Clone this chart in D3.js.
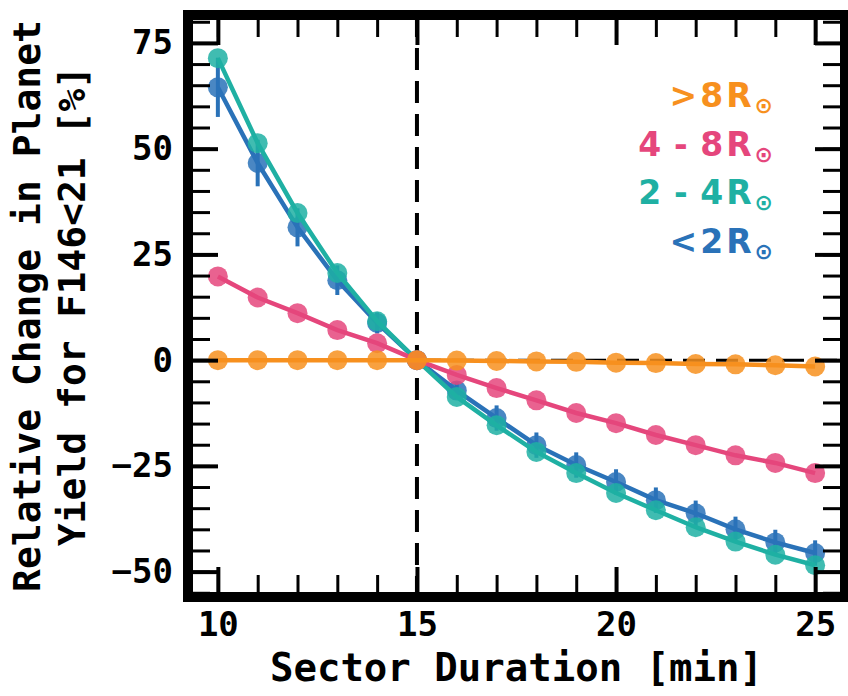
<!DOCTYPE html>
<html>
<head>
<meta charset="utf-8">
<script src="https://cdn.jsdelivr.net/npm/d3@7.9.0/dist/d3.min.js"></script>
<style>
  html, body { margin: 0; padding: 0; background: #fff; }
  svg { display: block; }
</style>
</head>
<body>
<svg id="chart" width="848" height="696"></svg>
<script>
// sector durations (min)
const durations = [10, 11, 12, 13, 14, 15, 16, 17, 18, 19, 20, 21, 22, 23, 24, 25];

// relative change in planet yield [%] per radius bin
const yieldBig = [0, 0, 0, 0, 0, 0, -0.1, -0.2, -0.3, -0.4, -0.6, -0.7, -0.9, -1.0, -1.2, -1.5];
const yieldLarge = [19.8, 14.8, 11.1, 7.1, 4.0, 0, -3.5, -6.6, -9.5, -12.5, -14.9, -17.7, -20.1, -22.5, -24.3, -26.7];
const yieldMid = [71.4, 51.3, 34.8, 20.6, 9.2, 0, -8.7, -15.4, -21.7, -26.7, -31.4, -35.5, -39.5, -42.9, -46.0, -48.5];
const yieldSmall = [64.5, 46.6, 31.4, 18.9, 8.8, 0, -7.2, -13.7, -20.1, -24.8, -28.8, -33.1, -36.2, -40.0, -43.1, -45.6];
const errSmall = [7, 5.5, 4.5, 3.5, 2.5, 0, 2, 3, 3, 3, 3, 3, 3, 3, 3, 3];

const seriesNames = ['<2', '2-4', '4-8', '>8'];
const legendLabels = ['>8R', '4\u2009-\u20098R', '2\u2009-\u20094R', '<2R'];

const xTicks = [10, 15, 20, 25];
const yTicks = [-50, -25, 0, 25, 50, 75];

const colors = {
  '>8': '#f7901e',
  '4-8': '#e5467c',
  '2-4': '#1fb0a3',
  '<2': '#2a72b8'
};

(() => {
  const svg = d3.select('#chart');
  const left = 188, right = 845, top = 15, bottom = 597;

  const x = d3.scaleLinear().domain([9.25, 25.75]).range([left, right]);
  const y = d3.scaleLinear().domain([-56, 81.6]).range([bottom, top]);

  const tickFont = "'DejaVu Sans Mono', monospace";

  svg.append('rect').attr('width', 848).attr('height', 696).attr('fill', '#fff');

  // reference lines
  svg.append('line')
    .attr('x1', x(15)).attr('x2', x(15))
    .attr('y1', top).attr('y2', bottom)
    .attr('stroke', '#000').attr('stroke-width', 4)
    .attr('stroke-dasharray', '22,11');

  svg.append('line')
    .attr('x1', left).attr('x2', right)
    .attr('y1', y(0)).attr('y2', y(0))
    .attr('stroke', '#000').attr('stroke-width', 3)
    .attr('stroke-dasharray', '22,11');

  const data = {
    '<2': yieldSmall,
    '2-4': yieldMid,
    '4-8': yieldLarge,
    '>8': yieldBig
  };

  const line = d3.line()
    .x((d) => x(d[0]))
    .y((d) => y(d[1]));

  seriesNames.forEach((name) => {
    const pts = durations.map((d, i) => [d, data[name][i], name === '<2' ? errSmall[i] : 0]);
    const g = svg.append('g');

    g.append('path')
      .datum(pts)
      .attr('d', line)
      .attr('fill', 'none')
      .attr('stroke', colors[name])
      .attr('stroke-width', 4.5);

    if (name === '<2') {
      g.selectAll('line.err')
        .data(pts)
        .enter()
        .append('line')
        .attr('class', 'err')
        .attr('x1', (d) => x(d[0])).attr('x2', (d) => x(d[0]))
        .attr('y1', (d) => y(d[1] - d[2])).attr('y2', (d) => y(d[1] + d[2]))
        .attr('stroke', colors[name])
        .attr('stroke-width', 4);
    }

    g.selectAll('circle')
      .data(pts)
      .enter()
      .append('circle')
      .attr('cx', (d) => x(d[0]))
      .attr('cy', (d) => y(d[1]))
      .attr('r', 10)
      .attr('fill', colors[name])
      .attr('fill-opacity', 0.85);
  });

  // axes, ticks pointing inward on all four sides
  function styleAxis(g, width) {
    g.select('.domain').remove();
    g.selectAll('.tick line').attr('stroke', '#000').attr('stroke-width', width);
    g.selectAll('text')
      .attr('font-family', tickFont)
      .attr('font-weight', 'bold')
      .attr('font-size', 34)
      .attr('fill', '#000');
  }

  const xMinor = d3.range(10, 26, 1);
  const yMinor = d3.range(-55, 81, 5);

  svg.append('g').attr('transform', `translate(0,${bottom})`)
    .call(d3.axisBottom(x).tickValues(xMinor).tickSize(-22).tickFormat(''))
    .call((g) => styleAxis(g, 3));
  svg.append('g').attr('transform', `translate(0,${top})`)
    .call(d3.axisTop(x).tickValues(xMinor).tickSize(-22).tickFormat(''))
    .call((g) => styleAxis(g, 3));
  svg.append('g').attr('transform', `translate(${left},0)`)
    .call(d3.axisLeft(y).tickValues(yMinor).tickSize(-22).tickFormat(''))
    .call((g) => styleAxis(g, 3));
  svg.append('g').attr('transform', `translate(${right},0)`)
    .call(d3.axisRight(y).tickValues(yMinor).tickSize(-22).tickFormat(''))
    .call((g) => styleAxis(g, 3));

  svg.append('g').attr('transform', `translate(0,${bottom})`)
    .call(d3.axisBottom(x).tickValues(xTicks).tickSize(-30).tickPadding(15).tickFormat(d3.format('d')))
    .call((g) => styleAxis(g, 4));
  svg.append('g').attr('transform', `translate(0,${top})`)
    .call(d3.axisTop(x).tickValues(xTicks).tickSize(-30).tickFormat(''))
    .call((g) => styleAxis(g, 4));
  svg.append('g').attr('transform', `translate(${left},0)`)
    .call(d3.axisLeft(y).tickValues(yTicks).tickSize(-30).tickPadding(15).tickFormat(d3.format('d')))
    .call((g) => styleAxis(g, 4));
  svg.append('g').attr('transform', `translate(${right},0)`)
    .call(d3.axisRight(y).tickValues(yTicks).tickSize(-30).tickFormat(''))
    .call((g) => styleAxis(g, 4));

  // frame
  svg.append('rect')
    .attr('x', left).attr('y', top)
    .attr('width', right - left).attr('height', bottom - top)
    .attr('fill', 'none')
    .attr('stroke', '#000')
    .attr('stroke-width', 10);

  // axis labels
  svg.append('text')
    .attr('x', (left + right) / 2)
    .attr('y', 681)
    .attr('text-anchor', 'middle')
    .attr('font-family', tickFont)
    .attr('font-weight', 'bold')
    .attr('font-size', 39)
    .text('Sector Duration [min]');

  const yLabel = svg.append('text')
    .attr('transform', `translate(0,${(top + bottom) / 2}) rotate(-90)`)
    .attr('text-anchor', 'middle')
    .attr('font-family', tickFont)
    .attr('font-weight', 'bold')
    .attr('font-size', 38);
  yLabel.append('tspan').attr('x', 0).attr('y', 40).text('Relative Change in Planet');
  yLabel.append('tspan').attr('x', 0).attr('y', 85).text('Yield for F146<21 [%]');

  // legend (text only, coloured)
  const legendOrder = ['>8', '4-8', '2-4', '<2'];
  legendOrder.forEach((name, i) => {
    const t = svg.append('text')
      .attr('x', 773)
      .attr('y', 107 + i * 48.5)
      .attr('text-anchor', 'end')
      .attr('font-family', "'DejaVu Sans', sans-serif")
      .attr('font-weight', 'bold')
      .attr('fill', colors[name]);
    t.append('tspan')
      .attr('font-size', 33)
      .attr('letter-spacing', 3)
      .text(legendLabels[i]);
    t.append('tspan')
      .attr('font-size', 22)
      .attr('dy', 6)
      .text('\u2299');
  });
})();
</script>
</body>
</html>
